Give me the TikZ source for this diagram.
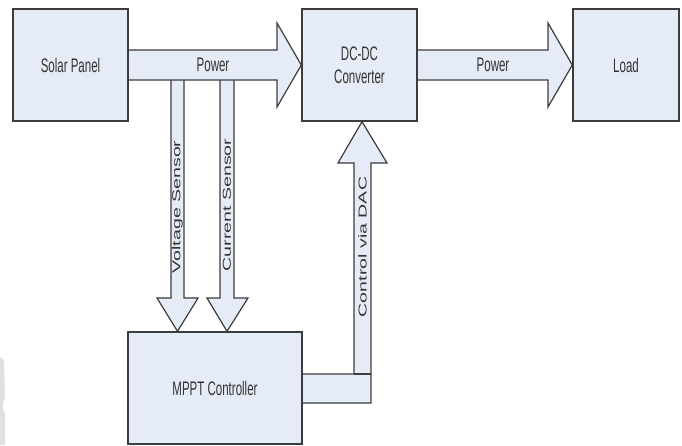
\documentclass[tikz,border=0pt]{standalone}
\usepackage{fontspec}
\setmainfont{Liberation Sans}
\usetikzlibrary{backgrounds}
\definecolor{boxfill}{HTML}{E6ECF7}
\definecolor{boxline}{HTML}{3C3C3C}
\definecolor{txt}{HTML}{333333}
% narrow, tall lettering
\newcommand{\hlabel}[1]{\scalebox{0.587}[1]{#1}}
\newcommand{\vlabel}[1]{\scalebox{1}[0.587]{#1}}
\tikzset{
  block/.style={draw=boxline, fill=boxfill, line width=1.4pt, inner sep=0pt,
    text=txt, align=center},
  barrow/.style={draw=boxline, fill=boxfill, line width=1.2pt, line join=miter},
  lbl/.style={text=txt, inner sep=0pt, align=center}
}
\begin{document}
\begin{tikzpicture}[x=1pt, y=-1pt,
  every node/.append style={font=\fontsize{19.6}{23.5}\selectfont}]
\useasboundingbox (0,0) rectangle (682,445);

% blocks
\node[block, minimum width=115pt, minimum height=112pt] (solar) at (70.5,65) {\hlabel{Solar Panel}};
\node[block, minimum width=115pt, minimum height=112pt] (dcdc) at (359.5,65) {\hlabel{DC-DC}\\\hlabel{Converter}};
\node[block, minimum width=106pt, minimum height=112pt] (load) at (626,65) {\hlabel{Load}};
\node[block, minimum width=174pt, minimum height=112pt] (mppt) at (215,388) {\hlabel{MPPT Controller}};

\begin{scope}[on background layer]
  \fill[white] (0,0) rectangle (682,445);
  % faint edge mark at the lower left
  \fill[black!12] (0,357) -- (4,360) -- (5,398) .. controls (2,405) .. (5,415) -- (5,445) -- (0,445) -- cycle;
  % sensor arrows down to the controller
  \draw[barrow] (171,80) -- (171,298) -- (157,298) -- ([xshift=-37.5pt]mppt.north)
    -- (198,298) -- (184,298) -- (184,80);
  \draw[barrow] (220,80) -- (220,298) -- (207,298) -- ([xshift=12pt]mppt.north)
    -- (248,298) -- (234,298) -- (234,80);
  % power flow
  \draw[barrow] ([yshift=15pt]solar.east) -- (277,50) -- (277,23) -- (dcdc.west)
    -- (277,107) -- (277,80) -- ([yshift=-15pt]solar.east);
  \draw[barrow] ([yshift=15pt]dcdc.east) -- (548,50) -- (548,23) -- (load.west)
    -- (548,107) -- (548,80) -- ([yshift=-15pt]dcdc.east);
  % control path from the controller up to the converter
  \draw[barrow] ([yshift=14pt]mppt.east) -- (354,374) -- (354,163) -- (338,163)
    -- ([xshift=2.5pt]dcdc.south) -- (387,163) -- (371,163) -- (371,403)
    -- ([yshift=-15pt]mppt.east);
  \draw[barrow] (354,374) -- (371,374);
\end{scope}

% arrow labels
\node[lbl] (pw1) at (213,65) {\hlabel{Power}};
\node[lbl] (pw2) at (493,65) {\hlabel{Power}};
\node[lbl, rotate=90] (vs) at (177.5,207) {\vlabel{Voltage Sensor}};
\node[lbl, rotate=90] (cs) at (227,205) {\vlabel{Current Sensor}};
\node[lbl, rotate=90] (ctl) at (362.5,247) {\vlabel{Control via DAC}};
\end{tikzpicture}
\end{document}
